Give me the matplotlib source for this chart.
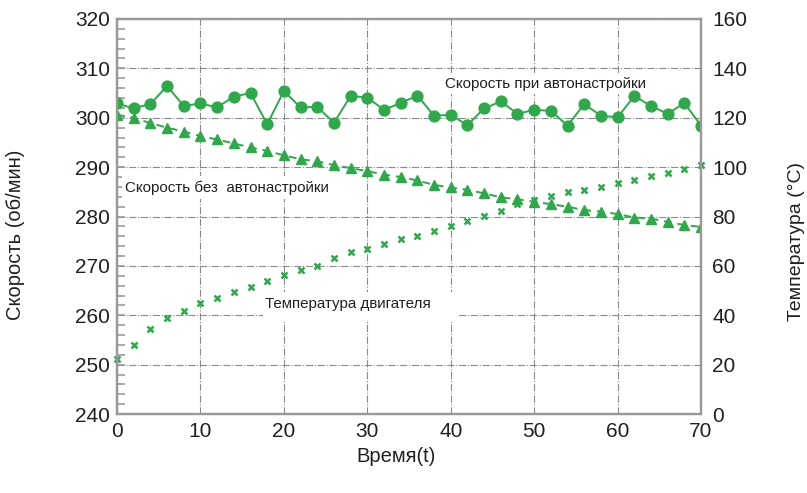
import matplotlib
matplotlib.use('Agg')
import matplotlib.pyplot as plt
from matplotlib.patches import Rectangle
from matplotlib.ticker import MultipleLocator

plt.rcParams['font.family'] = ['Liberation Sans', 'DejaVu Sans']

# данные
t = list(range(0, 72, 2))
speed_auto = [302.9, 301.9, 302.8, 306.4, 302.4, 302.9, 302.1, 304.3, 305.0, 298.7,
              305.4, 302.1, 302.2, 299.0, 304.4, 304.1, 301.6, 303.0, 304.5, 300.4,
              300.6, 298.5, 301.9, 303.3, 300.8, 301.6, 301.4, 298.4, 302.8, 300.4,
              300.1, 304.4, 302.4, 300.8, 303.0, 298.4]
speed_no_auto = [300.6, 300.0, 298.9, 298.0, 297.2, 296.3, 295.6, 294.8, 294.0, 293.3,
                 292.4, 291.6, 291.2, 290.4, 289.8, 289.2, 288.5, 288.0, 287.3, 286.4,
                 285.9, 285.4, 284.7, 283.9, 283.5, 283.0, 282.5, 282.0, 281.3, 281.0,
                 280.5, 279.8, 279.6, 278.9, 278.3, 277.9]
temp = [22.3, 27.9, 34.4, 38.8, 41.9, 44.8, 46.9, 49.3, 51.6, 54.0,
        56.3, 58.3, 60.1, 63.1, 65.5, 66.8, 68.9, 70.9, 72.1, 74.3,
        76.3, 78.0, 80.3, 82.1, 85.1, 86.9, 88.4, 89.8, 90.9, 91.8,
        93.6, 94.8, 96.5, 97.6, 99.2, 101.0]

green = '#2ea84a'
gray = '#999999'
txt = '#231f20'

fig = plt.figure(figsize=(8.07, 4.93), dpi=100)
ax = fig.add_axes([0.145, 0.160, 0.7237, 0.8015])
ax2 = ax.twinx()

ax.set_xlim(0, 70)
ax.set_ylim(240, 320)
ax2.set_ylim(0, 160)

ax.xaxis.set_major_locator(MultipleLocator(10))
ax.yaxis.set_major_locator(MultipleLocator(10))
ax.yaxis.set_minor_locator(MultipleLocator(2))
ax2.yaxis.set_major_locator(MultipleLocator(20))

ax.grid(True, which='major', linestyle='-.', color='#8a8a8a', linewidth=0.8)
ax.set_axisbelow(True)

# белые подложки под подписями
ax.add_patch(Rectangle((39.0, 308.7), 24.5, -3.9, facecolor='white', edgecolor='none', zorder=1.8))
ax.add_patch(Rectangle((0.6, 288.2), 25.0, -4.6, facecolor='white', edgecolor='none', zorder=1.8))
ax.add_patch(Rectangle((17.5, 264.7), 23.4, -5.7, facecolor='white', edgecolor='none', zorder=1.8))

ax.plot(t, speed_auto, '-', color=green, marker='o', markersize=7.8, linewidth=1.4, zorder=3)
ax.plot(t, speed_no_auto, '--', color=green, marker='^', markersize=7.8, linewidth=1.4,
        dashes=(4, 3), zorder=3)
ax2.plot(t, temp, linestyle='none', color=green, marker='x', markersize=4.5, markeredgewidth=1.8,
         clip_on=False)

ax.text(39.3, 306.8, 'Скорость при автонастройки', fontsize=10.9, color=txt, va='center', zorder=2)
ax.text(1.0, 285.9, 'Скорость без  автонастройки', fontsize=10.9, color=txt, va='center', zorder=2)
ax.text(17.7, 262.2, 'Температура двигателя', fontsize=10.9, color=txt, va='center', zorder=2)

for a in (ax, ax2):
    for s in a.spines.values():
        s.set_color(gray)
        s.set_linewidth(1.6)

ax.tick_params(axis='y', which='both', direction='in', length=6, width=1.2, color=gray,
               labelsize=15, labelcolor=txt, pad=5)
ax.tick_params(axis='x', length=0, labelsize=15, labelcolor=txt, pad=6)
ax2.tick_params(axis='y', length=0, labelsize=15, labelcolor=txt, pad=8)

ax.set_ylabel('Скорость (об/мин)', fontsize=14.5, color=txt)
ax.yaxis.set_label_coords(-0.157, 0.455)
ax2.set_ylabel('Температура (°C)', fontsize=14, color=txt)
ax2.yaxis.set_label_coords(1.149, 0.437)
ax.set_xlabel('Время(t)', fontsize=14.5, color=txt)
ax.xaxis.set_label_coords(0.478, -0.083)

fig.savefig('out.png', dpi=100)
